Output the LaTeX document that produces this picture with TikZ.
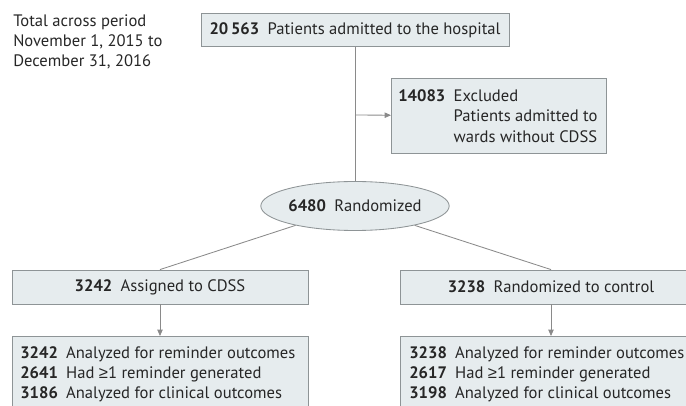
\documentclass[tikz,border=0pt]{standalone}
\usepackage{fontspec}
\setmainfont{PT Sans}
\newfontfamily\symfont{Liberation Sans}
\usetikzlibrary{arrows.meta,shapes.geometric}

\definecolor{boxfill}{HTML}{E6ECEE}
\definecolor{boxline}{HTML}{8E9496}
\definecolor{conn}{HTML}{8A8A8A}

% one pixel of the layout
\newcommand{\pxu}{0.025cm}
\newcommand{\atleast}{{\symfont ≥}}

\tikzset{
    x=0.025cm, y=-0.025cm,
    every node/.style={font=\fontsize{11.8}{14.5}\selectfont, text=black!85},
    box/.style={draw=boxline, fill=boxfill, line width=0.6pt, inner sep=0pt},
    conn/.style={draw=conn, line width=0.6pt},
    >={Triangle[length=4.5pt,width=3.8pt]}
}

\begin{document}
\begin{tikzpicture}

\clip (0,0) rectangle (686,406);

\node[anchor=north west, align=left, inner sep=0pt] (period) at (13,14)
    {Total across period\\November 1, 2015 to\\December 31, 2016};

\node[box, minimum width=308*\pxu, minimum height=33*\pxu] (admit) at (355,30)
    {\textbf{20\,563}\enspace Patients admitted to the hospital};

\node[box, minimum width=215*\pxu, minimum height=75*\pxu, anchor=north west] (excl) at (391,78) {};
\node[anchor=north west, inner sep=0pt] at (398,87)
    {\begin{tabular}{@{}l@{\enspace}l@{}}
     \textbf{14083} & Excluded\\
     & Patients admitted to\\
     & wards without CDSS
     \end{tabular}};

\node[box, ellipse, minimum width=162*\pxu, minimum height=49*\pxu] (rand) at (355,206)
    {\textbf{6480}\enspace Randomized};

\node[box, minimum width=296*\pxu, minimum height=34*\pxu] (cdss) at (160,287)
    {\textbf{3242}\enspace Assigned to CDSS};
\node[box, minimum width=302*\pxu, minimum height=34*\pxu] (ctrl) at (551,287)
    {\textbf{3238}\enspace Randomized to control};

\node[box, minimum width=296*\pxu, minimum height=90*\pxu, anchor=north] (cdssout) at (160,336) {};
\node[anchor=north west, inner sep=0pt, align=left] at (20,346)
    {\textbf{3242}\enspace Analyzed for reminder outcomes\\
     \textbf{2641}\enspace Had \atleast1 reminder generated\\
     \textbf{3186}\enspace Analyzed for clinical outcomes};

\node[box, minimum width=302*\pxu, minimum height=90*\pxu, anchor=north] (ctrlout) at (551,336) {};
\node[anchor=north west, inner sep=0pt, align=left] at (409,346)
    {\textbf{3238}\enspace Analyzed for reminder outcomes\\
     \textbf{2617}\enspace Had \atleast1 reminder generated\\
     \textbf{3198}\enspace Analyzed for clinical outcomes};

\coordinate (split) at (355,115);
\draw[conn] (admit) -- (rand);
\draw[conn,->] (split) -- (excl);
\draw[conn] (rand) -- (cdss.north);
\draw[conn] (rand) -- (ctrl.north);
\draw[conn,->] (cdss) -- (cdssout);
\draw[conn,->] (ctrl) -- (ctrlout);

\end{tikzpicture}
\end{document}
